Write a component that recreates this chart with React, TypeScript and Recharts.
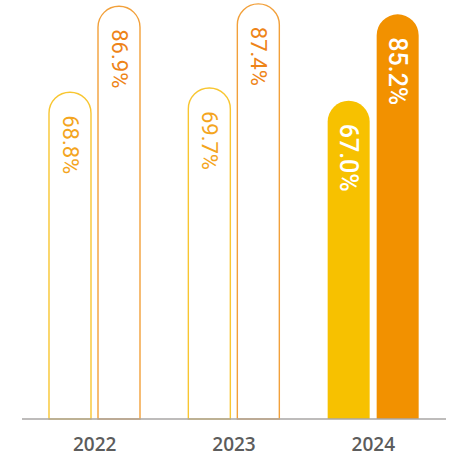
import { BarChart, Bar, XAxis, YAxis, Cell, LabelList } from 'recharts'

const years = ['2022', '2023', '2024']
const firstValues = [68.8, 69.7, 67.0]
const secondValues = [86.9, 87.4, 85.2]
const highlighted = [false, false, true]

const data = years.map((year, i) => ({
  year,
  first: firstValues[i],
  second: secondValues[i],
}))

const YELLOW = '#F7C100'
const ORANGE = '#F29100'
const YELLOW_LINE = '#F8C631'
const ORANGE_LINE = '#F2A03A'
const YELLOW_TEXT = '#F4A51E'
const ORANGE_TEXT = '#EE8418'

const makeLabel = (textColor: string) => (props: any) => {
  const { x, y, width, index, value } = props
  const on = highlighted[index]
  const cx = x + width / 2
  const top = y + 23
  return (
    <text
      x={cx}
      y={top}
      transform={`rotate(90 ${cx} ${top})`}
      textAnchor="start"
      dominantBaseline="central"
      fill={on ? '#fff' : textColor}
      fontSize={on ? 25 : 22}
      fontWeight={on ? 500 : 400}
      fontFamily="Roboto, sans-serif"
    >
      {Number(value).toFixed(1)}%
    </text>
  )
}

export default function App() {
  return (
    <div style={{ position: 'absolute', left: 0, top: 0, background: '#fff' }}>
      <BarChart
        width={462}
        height={461}
        data={data}
        margin={{ top: 1, right: 16, bottom: 12, left: 22 }}
        barSize={42}
        barGap={7}
      >
        <XAxis
          dataKey="year"
          height={30}
          padding={{ left: 3, right: 3 }}
          tickLine={false}
          axisLine={{ stroke: '#a9a6a4', strokeWidth: 1.5 }}
          tick={{ fontSize: 19, fill: '#5c5c5c', fontFamily: "'Open Sans', sans-serif", fontWeight: 600 }}
          tickMargin={13}
        />
        <YAxis hide domain={[0, 88]} />
        <Bar dataKey="first" radius={[21, 21, 0, 0]} isAnimationActive={false}>
          {data.map((d, i) => (
            <Cell
              key={d.year}
              fill={highlighted[i] ? YELLOW : '#fff'}
              stroke={highlighted[i] ? 'none' : YELLOW_LINE}
              strokeWidth={1.4}
            />
          ))}
          <LabelList dataKey="first" content={makeLabel(YELLOW_TEXT)} />
        </Bar>
        <Bar dataKey="second" radius={[21, 21, 0, 0]} isAnimationActive={false}>
          {data.map((d, i) => (
            <Cell
              key={d.year}
              fill={highlighted[i] ? ORANGE : '#fff'}
              stroke={highlighted[i] ? 'none' : ORANGE_LINE}
              strokeWidth={1.4}
            />
          ))}
          <LabelList dataKey="second" content={makeLabel(ORANGE_TEXT)} />
        </Bar>
      </BarChart>
    </div>
  )
}
